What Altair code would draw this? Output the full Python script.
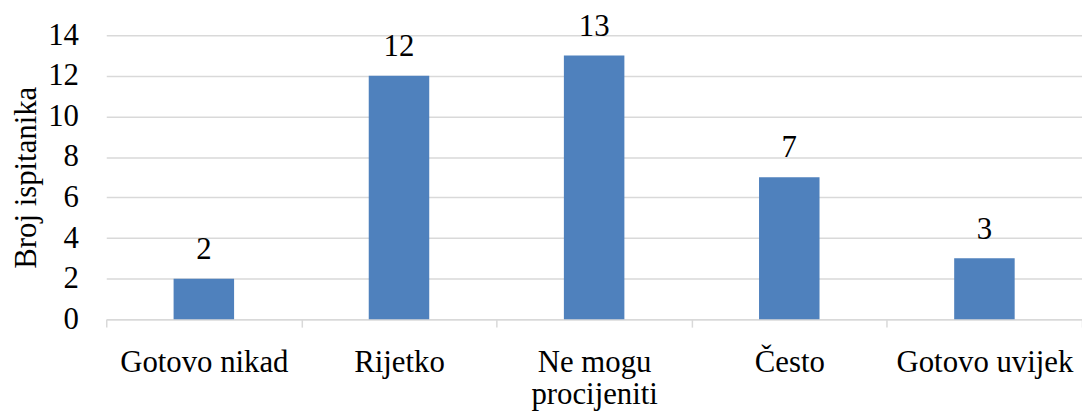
import altair as alt
import pandas as pd

categories = ["Gotovo nikad", "Rijetko", "Ne mogu procijeniti", "Često", "Gotovo uvijek"]
values = [2, 12, 13, 7, 3]

df = pd.DataFrame({"kategorija": categories, "broj": values})

FONT = "Liberation Serif"
FS = 31

x = alt.X(
    "kategorija:N",
    sort=categories,
    scale=alt.Scale(paddingInner=0, paddingOuter=0),
    axis=alt.Axis(
        title=None,
        labelAngle=0,
        labelFont=FONT,
        labelFontSize=FS,
        labelColor="black",
        labelPadding=21,
        labelLineHeight=32,
        labelExpr="datum.label == 'Ne mogu procijeniti' ? ['Ne mogu', 'procijeniti'] : datum.label",
        tickBand="extent",
        ticks=True,
        tickSize=8,
        tickColor="#d9d9d9",
        tickWidth=1.5,
        domainColor="#d9d9d9",
        domainWidth=1.5,
        grid=False,
    ),
)

y = alt.Y(
    "broj:Q",
    scale=alt.Scale(domain=[0, 14]),
    axis=alt.Axis(
        title="Broj ispitanika",
        titleFont=FONT,
        titleFontSize=FS,
        titleFontWeight="normal",
        titleColor="black",
        titlePadding=5,
        values=[0, 2, 4, 6, 8, 10, 12, 14],
        labelFont=FONT,
        labelFontSize=FS,
        labelColor="black",
        labelPadding=28,
        domain=False,
        ticks=False,
        grid=True,
        gridColor="#d9d9d9",
        gridWidth=1.5,
    ),
)

bars = alt.Chart(df).mark_bar(color="#4F81BD", width=alt.RelativeBandSize(0.31)).encode(x=x, y=y)

labels = alt.Chart(df).mark_text(
    font=FONT, fontSize=FS, color="black", baseline="alphabetic", dy=-20
).encode(x=alt.X("kategorija:N", sort=categories), y="broj:Q", text="broj:Q")

chart = (
    alt.layer(bars, labels)
    .properties(
        width=983,
        height=286,
        autosize=alt.AutoSizeParams(type="none"),
        padding={"left": 99, "top": 26, "right": 0, "bottom": 92},
    )
    .configure(font=FONT)
    .configure_view(stroke=None)
)

chart.save("out.html", embed_options={"renderer": "svg", "actions": False})
